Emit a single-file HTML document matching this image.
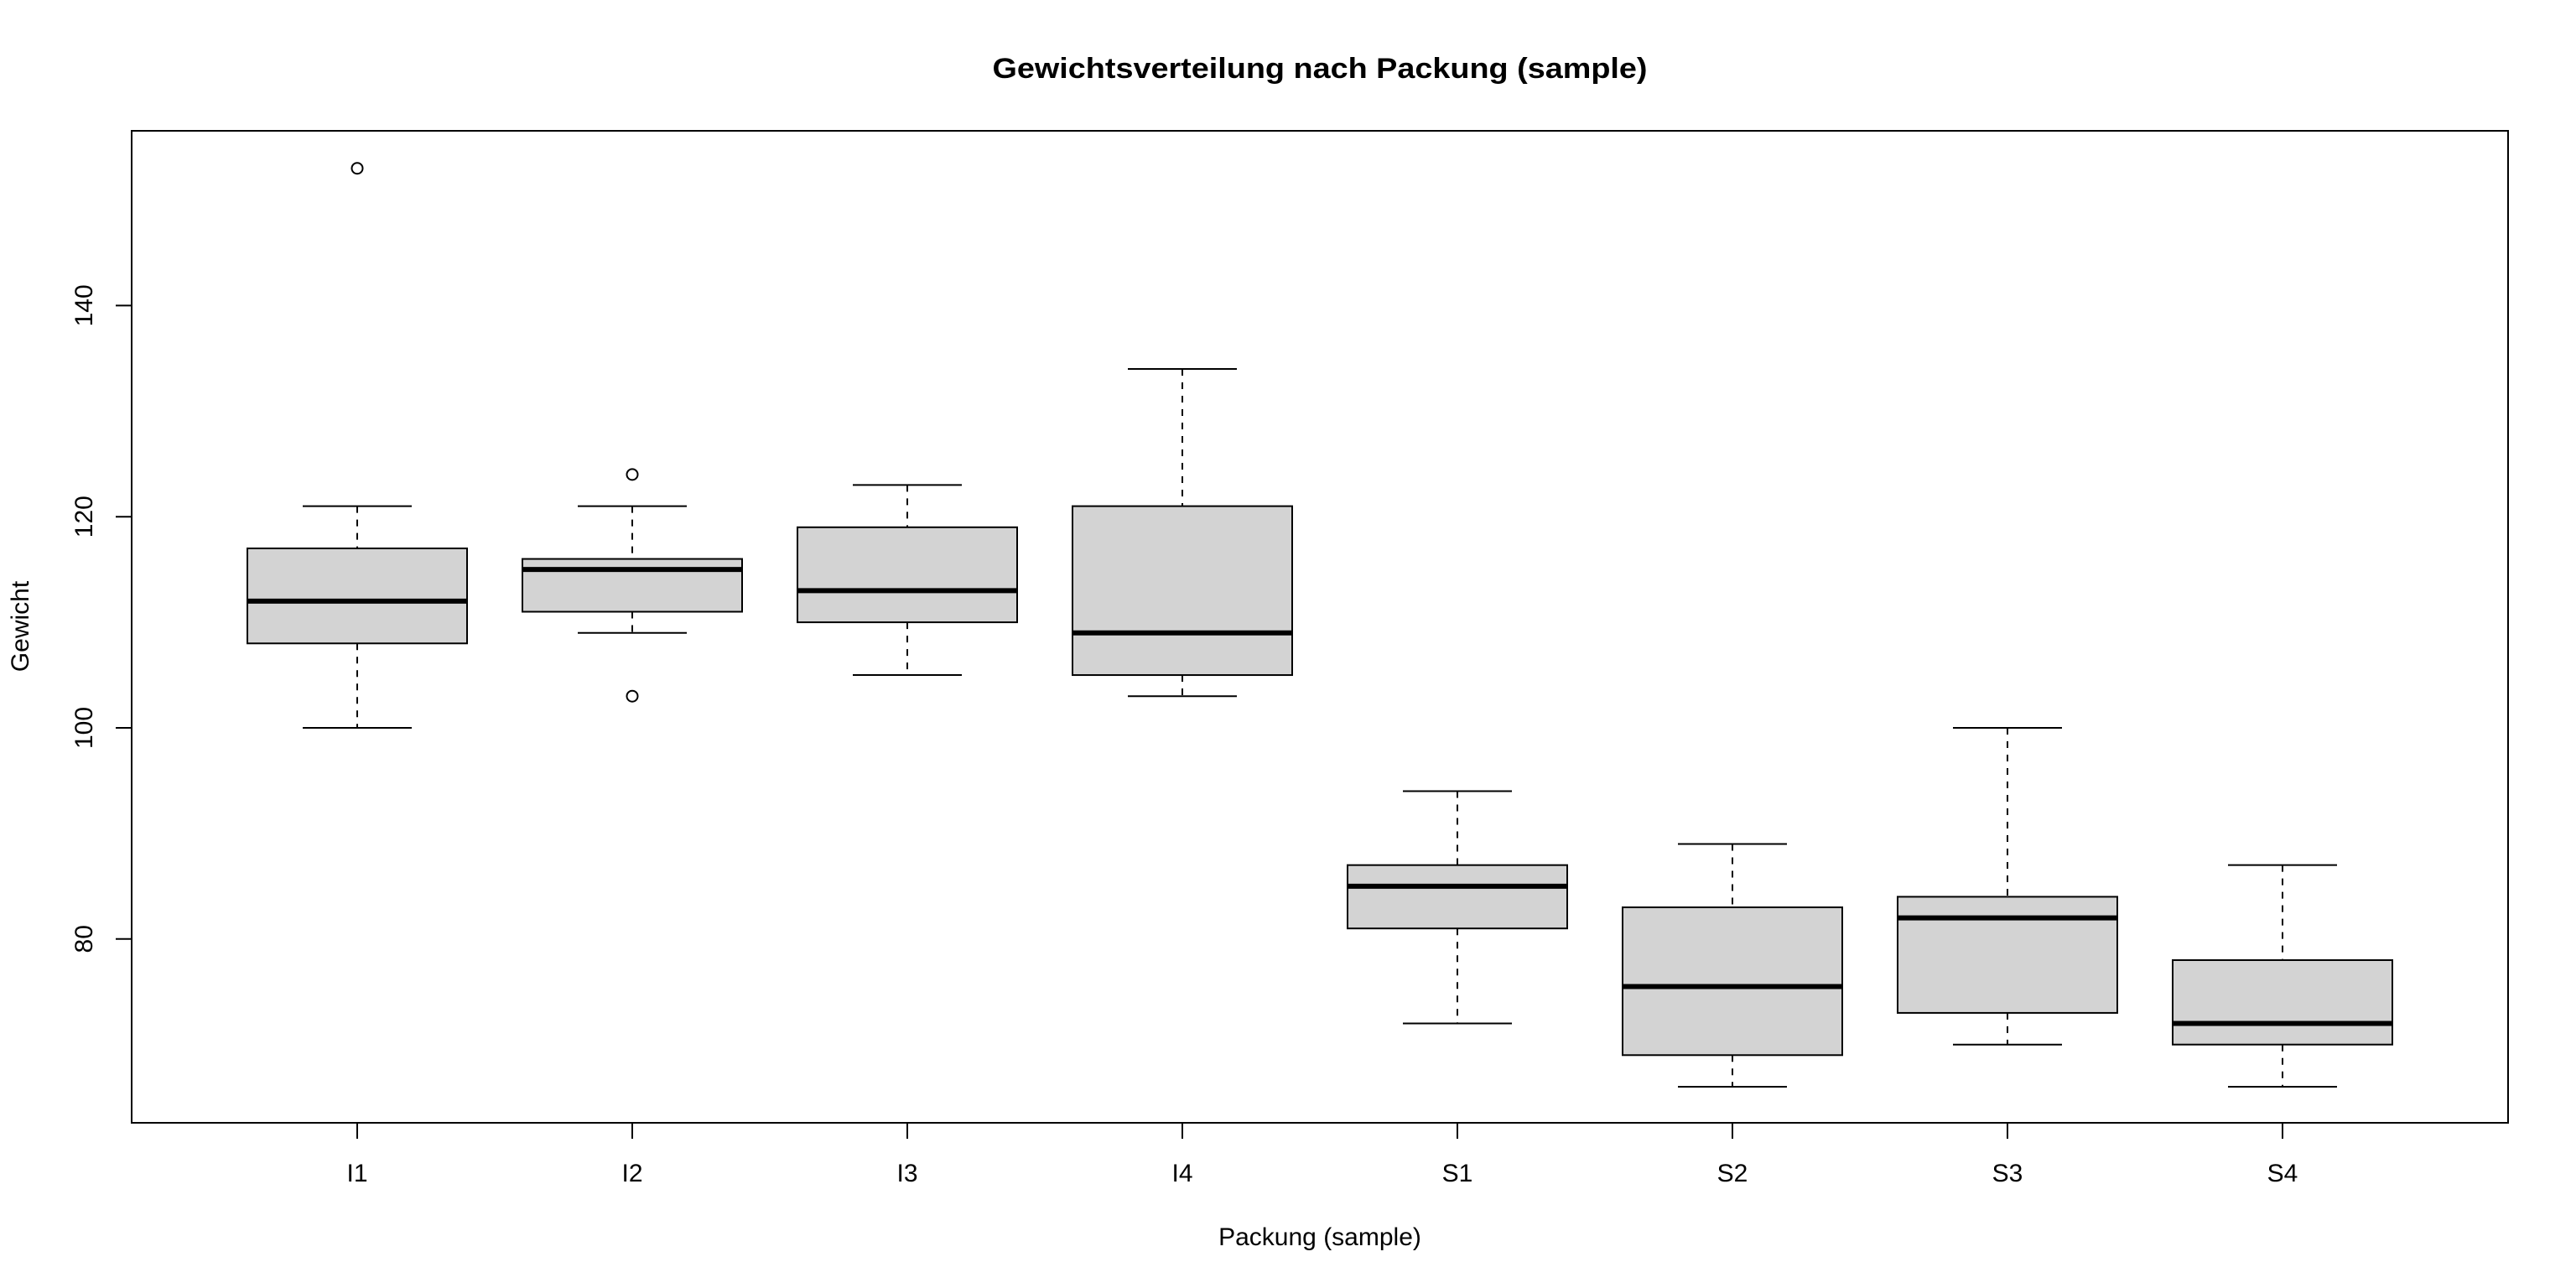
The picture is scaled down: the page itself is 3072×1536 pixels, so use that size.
<!DOCTYPE html>
<html><head><meta charset="utf-8"><style>
html,body{margin:0;padding:0;background:#fff;}
svg{display:block;}
text{font-family:"Liberation Sans",Arial,sans-serif;fill:#000;}
</style></head><body>
<svg id="s" width="3072" height="1536" xmlns="http://www.w3.org/2000/svg">
<rect width="3072" height="1536" fill="#fff"/>
<text x="1574" y="93" font-size="34" font-weight="bold" text-anchor="middle" textLength="781" lengthAdjust="spacingAndGlyphs">Gewichtsverteilung nach Packung (sample)</text>
<rect x="157" y="156" width="2834" height="1183" fill="none" stroke="#000" stroke-width="2"/>
<g stroke="#000" stroke-width="2">
<line x1="157" y1="364.4" x2="138" y2="364.4"/>
<line x1="157" y1="616.2" x2="138" y2="616.2"/>
<line x1="157" y1="868" x2="138" y2="868"/>
<line x1="157" y1="1119.8" x2="138" y2="1119.8"/>
</g>
<g font-size="30" text-anchor="middle">
<text transform="translate(110,364.4) rotate(-90)">140</text>
<text transform="translate(110,616.2) rotate(-90)">120</text>
<text transform="translate(110,868) rotate(-90)">100</text>
<text transform="translate(110,1119.8) rotate(-90)">80</text>
<text transform="translate(34,747) rotate(-90)">Gewicht</text>
<text x="426" y="1409">I1</text>
<text x="754" y="1409">I2</text>
<text x="1082" y="1409">I3</text>
<text x="1410" y="1409">I4</text>
<text x="1738" y="1409">S1</text>
<text x="2066" y="1409">S2</text>
<text x="2394" y="1409">S3</text>
<text x="2722" y="1409">S4</text>
<text x="1574" y="1485">Packung (sample)</text>
</g>
<g id="boxes"></g>
</svg>
<script>
var Y=function(v){return 868-(v-100)*12.59;};
var d=[[100,108,112,117,121,[153]],[109,111,115,116,121,[124,103]],[105,110,113,119,123,[]],[103,105,109,121,134,[]],
[72,81,85,87,94,[]],[66,69,75.5,83,89,[]],[70,73,82,84,100,[]],[66,70,72,78,87,[]]];
var h='';
d.forEach(function(b,i){var c=426+i*328;
h+='<line x1="'+c+'" y1="'+Y(b[4])+'" x2="'+c+'" y2="'+Y(b[3])+'" stroke="#000" stroke-width="2" stroke-dasharray="8,8"/>';
h+='<line x1="'+c+'" y1="'+Y(b[1])+'" x2="'+c+'" y2="'+Y(b[0])+'" stroke="#000" stroke-width="2" stroke-dasharray="8,8"/>';
h+='<line x1="'+(c-65)+'" y1="'+Y(b[4])+'" x2="'+(c+65)+'" y2="'+Y(b[4])+'" stroke="#000" stroke-width="2"/>';
h+='<line x1="'+(c-65)+'" y1="'+Y(b[0])+'" x2="'+(c+65)+'" y2="'+Y(b[0])+'" stroke="#000" stroke-width="2"/>';
h+='<rect x="'+(c-131)+'" y="'+Y(b[3])+'" width="262" height="'+(Y(b[1])-Y(b[3]))+'" fill="#d3d3d3" stroke="#000" stroke-width="2"/>';
h+='<line x1="'+(c-131)+'" y1="'+Y(b[2])+'" x2="'+(c+131)+'" y2="'+Y(b[2])+'" stroke="#000" stroke-width="6"/>';
b[5].forEach(function(o){h+='<circle cx="'+c+'" cy="'+Y(o)+'" r="6.5" fill="none" stroke="#000" stroke-width="2"/>';});
h+='<line x1="'+c+'" y1="1339" x2="'+c+'" y2="1358" stroke="#000" stroke-width="2"/>';
});
document.getElementById('boxes').innerHTML=h;
</script>
</body></html>
